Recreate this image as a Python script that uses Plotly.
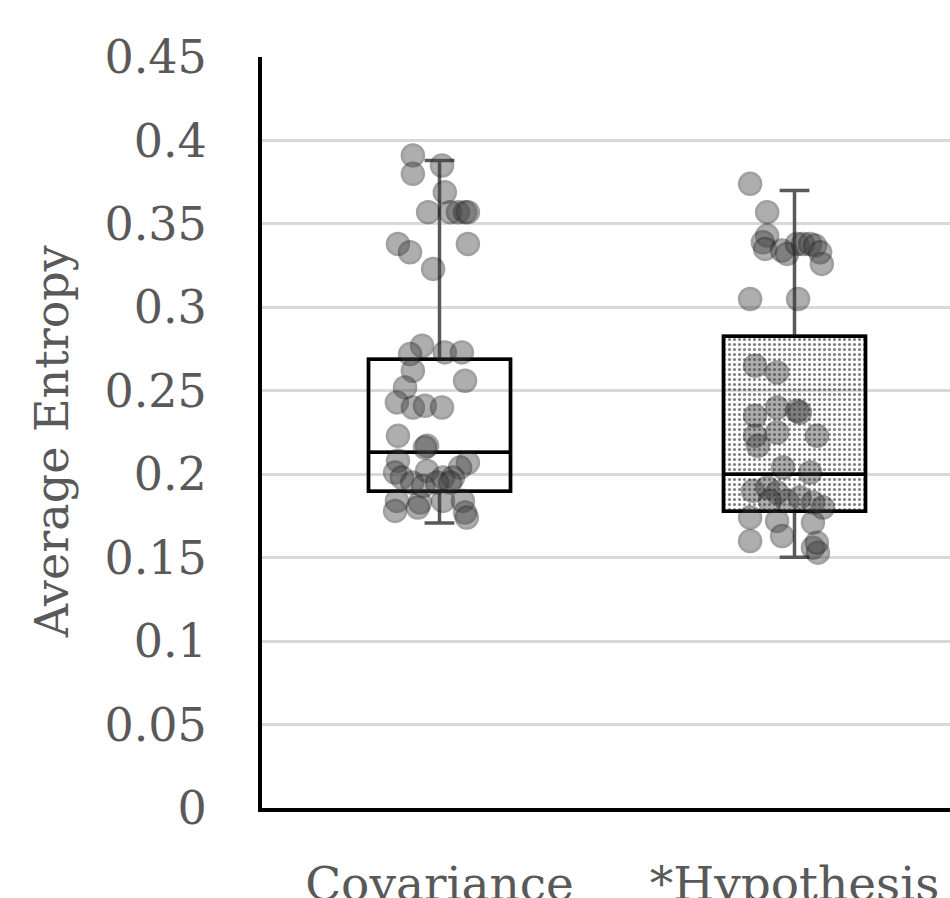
import plotly.graph_objects as go

# ---------------- data ----------------
categories = ["Covariance", "*Hypothesis"]

cov_values = [0.391, 0.380, 0.385, 0.369, 0.357, 0.357, 0.357, 0.357, 0.357,
              0.338, 0.333, 0.338, 0.323,
              0.277, 0.272, 0.273, 0.273, 0.262, 0.256, 0.252, 0.243, 0.240,
              0.241, 0.240, 0.223, 0.217, 0.216,
              0.208, 0.207, 0.204, 0.202, 0.201, 0.198, 0.198, 0.198, 0.195,
              0.193, 0.195, 0.195, 0.184, 0.183, 0.184, 0.184, 0.178, 0.180,
              0.177, 0.174]
cov_jitter = [-0.075, -0.075, 0.007, 0.015, -0.032, 0.030, 0.052, 0.072, 0.080,
              -0.117, -0.083, 0.080, -0.018,
              -0.049, -0.083, 0.015, 0.063, -0.075, 0.072, -0.097, -0.120, -0.075,
              -0.041, 0.007, -0.117, -0.035, -0.041,
              -0.117, 0.080, 0.058, -0.035, -0.125, -0.106, 0.010, 0.038, -0.077,
              -0.046, -0.007, 0.030, -0.120, -0.055, 0.010, 0.066, -0.125, -0.061,
              0.072, 0.077]

hyp_values = [0.374, 0.357, 0.343, 0.339, 0.335, 0.334, 0.332, 0.338, 0.338,
              0.338, 0.337, 0.333, 0.326, 0.305, 0.305,
              0.265, 0.261, 0.240, 0.238, 0.237, 0.235, 0.225, 0.223, 0.223,
              0.217, 0.204, 0.201,
              0.190, 0.192, 0.189, 0.184, 0.184, 0.186, 0.183, 0.180, 0.174,
              0.172, 0.171, 0.160, 0.163, 0.156, 0.153, 0.159]
hyp_jitter = [-0.125, -0.077, -0.077, -0.089, -0.083, -0.035, -0.021, 0.007, 0.024,
              0.044, 0.058, 0.072, 0.077, -0.125, 0.010,
              -0.111, -0.049, -0.049, 0.007, 0.015, -0.111, -0.049, 0.063, -0.111,
              -0.103, -0.032, 0.044,
              -0.117, -0.077, -0.049, -0.069, -0.021, 0.015, 0.052, 0.080, -0.125,
              -0.049, 0.052, -0.125, -0.035, 0.052, 0.066, 0.063]

q1 = [0.1898, 0.1778]
median = [0.2132, 0.2000]
q3 = [0.2689, 0.2826]
lower_whisker = [0.1707, 0.1503]
upper_whisker = [0.3880, 0.3700]

y_tickvals = [0, 0.05, 0.1, 0.15, 0.2, 0.25, 0.3, 0.35, 0.4, 0.45]
y_ticktext = ["0", "0.05", "0.1", "0.15", "0.2", "0.25", "0.3", "0.35", "0.4", "0.45"]
y_title = "Average Entropy"

# ---------------- styling ----------------
FONT = "DejaVu Serif"
TEXT = "#595959"
positions = list(range(len(categories)))

fig = go.Figure()

point_sets = [(cov_values, cov_jitter), (hyp_values, hyp_jitter)]
for pos, (vals, jit) in zip(positions, point_sets):
    fig.add_trace(go.Scatter(
        x=[pos + j for j in jit], y=vals, mode="markers",
        marker=dict(size=22, color="#3f3f3f", opacity=0.42,
                    line=dict(color="#202020", width=2.5)),
        hoverinfo="y"))

# dotted fill for the Hypothesis box
fig.add_trace(go.Bar(
    x=[positions[1]], base=[q1[1]], y=[q3[1] - q1[1]], width=0.4,
    marker=dict(color="rgba(0,0,0,0)", line=dict(width=0),
                pattern=dict(shape=".", fgcolor="black", bgcolor="rgba(0,0,0,0)",
                             size=5, solidity=0.3, fillmode="overlay")),
    hoverinfo="skip"))

# whiskers (grey)
fig.add_trace(go.Box(
    x=positions, q1=q1, median=median, q3=q3,
    lowerfence=lower_whisker, upperfence=upper_whisker,
    width=0.4, whiskerwidth=0.21, boxpoints=False,
    fillcolor="rgba(0,0,0,0)", line=dict(color="#595959", width=3.5)))

# box outline and median (black)
fig.add_trace(go.Box(
    x=positions, q1=q1, median=median, q3=q3,
    lowerfence=q1, upperfence=q3,
    width=0.4, whiskerwidth=0, boxpoints=False,
    fillcolor="rgba(0,0,0,0)", line=dict(color="black", width=3.5)))

fig.update_layout(
    width=950, height=898,
    margin=dict(l=262, r=0, t=57, b=90),
    plot_bgcolor="white", paper_bgcolor="white",
    showlegend=False, barmode="overlay", boxmode="overlay",
    font=dict(family=FONT, color=TEXT),
    xaxis=dict(range=[-0.5, 1.438], tickvals=positions, ticktext=categories,
               showgrid=False, zeroline=False, showline=True,
               linecolor="black", linewidth=4, ticks="",
               tickfont=dict(family=FONT, size=47, color=TEXT),
               ticklabelstandoff=32, automargin=False),
    yaxis=dict(range=[0, 0.45], tickvals=y_tickvals, ticktext=y_ticktext,
               showgrid=True, gridcolor="#d9d9d9", gridwidth=3,
               zeroline=False, showline=True, linecolor="black", linewidth=4,
               ticks="", tickfont=dict(family=FONT, size=46, color=TEXT),
               ticklabelstandoff=42, automargin=False),
    annotations=[dict(text=y_title, textangle=-90, xref="paper", yref="paper",
                      x=-0.3052, y=0.487, xanchor="center", yanchor="middle",
                      showarrow=False,
                      font=dict(family=FONT, size=46, color=TEXT))],
)

fig.write_html("out.html")
